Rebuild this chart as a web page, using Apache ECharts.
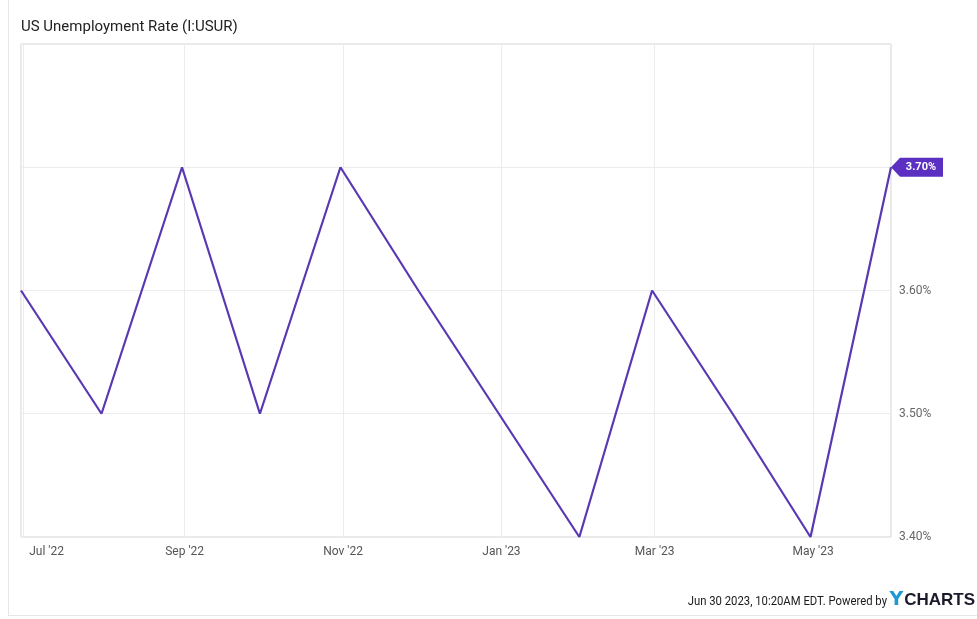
<!DOCTYPE html>
<html>
<head>
<meta charset="utf-8">
<script src="https://cdn.jsdelivr.net/npm/echarts@6/dist/echarts.min.js"></script>
<style>
html,body{margin:0;padding:0;background:#fff;}
#chart{width:977px;height:619px;}
</style>
</head>
<body>
<div id="chart"></div>
<script>
// Data (month-end observations)
var dates = ['2022-06-30','2022-07-31','2022-08-31','2022-09-30','2022-10-31','2022-11-30','2022-12-31','2023-01-31','2023-02-28','2023-03-31','2023-04-30','2023-05-31'];
var rates = [3.6, 3.5, 3.7, 3.5, 3.7, 3.6, 3.5, 3.4, 3.6, 3.5, 3.4, 3.7];
var yTicks = [3.4, 3.5, 3.6, 3.7, 3.8];
var monthNames = ['Jan','Feb','Mar','Apr','May','Jun','Jul','Aug','Sep','Oct','Nov','Dec'];
var titleText = 'US Unemployment Rate (I:USUR)';
var footerText = 'Jun 30 2023, 10:20AM EDT. Powered by';

var chart = echarts.init(document.getElementById('chart'));
var seriesData = dates.map(function (d, i) { return [d, rates[i]]; });
var last = seriesData[seriesData.length - 1];

chart.setOption({
  animation: false,
  backgroundColor: '#fff',
  textStyle: { fontFamily: 'Roboto' },
  title: {
    text: titleText,
    left: 16, top: 15,
    textStyle: { fontFamily: 'Roboto', fontSize: 15, fontWeight: 'normal', color: '#222' }
  },
  grid: {
    left: 21, right: 86, top: 44, bottom: 82,
    show: true, borderColor: '#d2d2d2', borderWidth: 1
  },
  xAxis: {
    type: 'time',
    min: dates[0],
    max: dates[dates.length - 1],
    splitNumber: 5,
    axisLine: { show: false },
    axisTick: { show: false },
    splitLine: { show: true, lineStyle: { color: '#ececec', width: 1 } },
    axisLabel: {
      interval: 0,
      hideOverlap: false,
      color: '#555',
      fontSize: 12,
      margin: 9,
      formatter: function (value) {
        var d = new Date(value);
        if (d.getDate() !== 1) return '';
        var s = monthNames[d.getMonth()] + " '" + String(d.getFullYear()).slice(2);
        if (d.getFullYear() === 2022 && d.getMonth() === 6) return '{f|' + s + '}';
        return s;
      },
      rich: { f: { padding: [0, 0, 0, 46], color: '#555', fontSize: 12 } }
    }
  },
  yAxis: {
    type: 'value',
    position: 'right',
    min: yTicks[0],
    max: yTicks[yTicks.length - 1],
    interval: 0.1,
    axisLine: { show: false },
    axisTick: { show: false },
    splitLine: { show: true, lineStyle: { color: '#ececec', width: 1 } },
    axisLabel: {
      color: '#666',
      fontSize: 12,
      margin: 8,
      showMaxLabel: false,
      formatter: function (v) {
        if (Math.abs(v - yTicks[yTicks.length - 1]) < 1e-6) return '';
        return v.toFixed(2) + '%';
      }
    }
  },
  series: [{
    type: 'line',
    data: seriesData,
    showSymbol: false,
    symbol: 'none',
    lineStyle: { color: '#5a38b2', width: 2.2 },
    itemStyle: { color: '#5a38b2' },
    z: 3,
    markPoint: {
      silent: true,
      symbol: 'path://M0,10 L9,0 L52,0 L52,20 L9,20 Z',
      symbolSize: [52, 19],
      symbolOffset: [26, 0],
      symbolKeepAspect: false,
      itemStyle: { color: '#5a2fc2' },
      label: {
        show: true,
        position: 'inside',
        offset: [4, 0],
        color: '#fff',
        fontSize: 11,
        fontWeight: 'bold',
        formatter: function (p) { return p.value.toFixed(2) + '%'; }
      },
      data: [{ coord: last, value: last[1] }]
    }
  }],
  graphic: [
    { type: 'line', shape: { x1: 8.5, y1: 0, x2: 8.5, y2: 615 }, style: { stroke: '#e6e6e6', lineWidth: 1 }, silent: true },
    { type: 'line', shape: { x1: 8, y1: 615.5, x2: 977, y2: 615.5 }, style: { stroke: '#e6e6e6', lineWidth: 1 }, silent: true },
    {
      type: 'text',
      x: 887, y: 602,
      scaleX: 0.87,
      silent: true,
      style: {
        text: footerText,
        fontFamily: 'Roboto',
        fontSize: 13,
        fill: '#1a1a1a',
        align: 'right',
        verticalAlign: 'middle'
      }
    },
    {
      type: 'text',
      x: 975, y: 600,
      silent: true,
      style: {
        text: '{y|Y}{c|CHARTS}',
        align: 'right',
        verticalAlign: 'middle',
        rich: {
          y: { fontFamily: 'DejaVu Sans', fontSize: 19, fontWeight: 'bold', fill: '#1d9ad6', padding: [0, 1, 0, 1] },
          c: { fontFamily: 'Liberation Sans', fontSize: 17, fontWeight: 'bold', fill: '#1b1b2b' }
        }
      }
    }
  ]
});
</script>
</body>
</html>
